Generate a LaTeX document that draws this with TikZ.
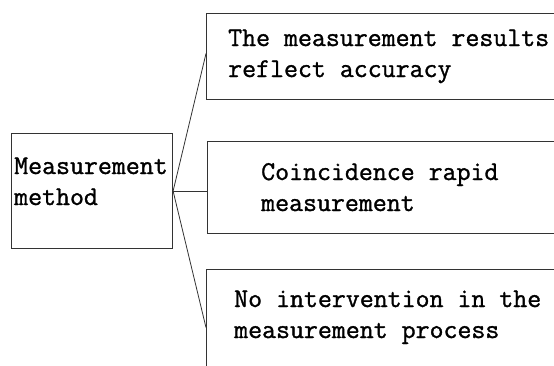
\documentclass[tikz,border=0pt]{standalone}
\usepackage{fontspec}
\usepackage{tikz}
\usetikzlibrary{calc}
\newfontfamily\boxfont[FakeBold=1.2]{Latin Modern Mono}
\definecolor{framecolor}{HTML}{333333}

\begin{document}
\begin{tikzpicture}[x=1pt,y=-1pt,
    boxline/.style={draw=framecolor,line width=1.1pt,anchor=north west,inner sep=0pt},
    boxtext/.style={anchor=base west,inner sep=0pt,font=\boxfont\fontsize{27.1pt}{31pt}\selectfont}]
\useasboundingbox (0,0) rectangle (554,365);
\clip (0,0) rectangle (554,365);
%% boxes
\node[boxline,minimum width=161pt,minimum height=115pt] (method) at (11,133) {};
\node[boxline,minimum width=380pt,minimum height=86pt] (results) at (206,13) {};
\node[boxline,minimum width=380pt,minimum height=92pt] (rapid) at (207,141) {};
\node[boxline,minimum width=380pt,minimum height=116pt] (process) at (206,269) {};
%% texts
\node[boxtext] (m1) at (14,174) {Measurement};
\node[boxtext] (m2) at (14,205) {method};
\node[boxtext] (r1) at (228,46) {The measurement results};
\node[boxtext] (r2) at (228,77) {reflect accuracy};
\node[boxtext] (c1) at (261,180) {Coincidence rapid};
\node[boxtext] (c2) at (261,211) {measurement};
\node[boxtext] (p1) at (234,307) {No intervention in the};
\node[boxtext] (p2) at (234,338) {measurement process};
%% connectors
\draw[framecolor,line width=0.8pt] (method.east) -- ($(results.west)+(0,-3)$);
\draw[framecolor,line width=0.8pt] (method.east) -- (method.east -| rapid.west);
\draw[framecolor,line width=0.8pt] (method.east) -- (process.west);
\end{tikzpicture}
\end{document}
